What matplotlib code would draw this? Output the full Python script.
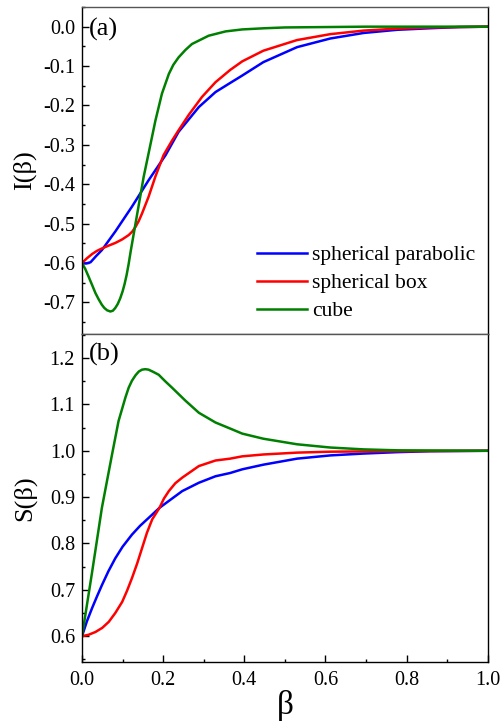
import numpy as np
import matplotlib
matplotlib.use('Agg')
import matplotlib.pyplot as plt
from matplotlib.ticker import MultipleLocator

plt.rcParams['font.family'] = ['Liberation Serif', 'DejaVu Serif']

# ---- panel (a): I(beta) ----
beta_a_par = [0.000, 0.010, 0.021, 0.035, 0.049, 0.082, 0.123, 0.164, 0.206, 0.238,
              0.288, 0.329, 0.365, 0.395, 0.447, 0.530, 0.612, 0.694, 0.776, 0.858,
              0.930, 1.000]
I_par = [-0.600, -0.601, -0.598, -0.582, -0.567, -0.520, -0.457, -0.390, -0.326, -0.267,
         -0.204, -0.166, -0.143, -0.124, -0.090, -0.052, -0.030, -0.016, -0.008, -0.004,
         -0.001, 0.000]

beta_a_box = [0.000, 0.012, 0.025, 0.037, 0.049, 0.065, 0.082, 0.099, 0.115, 0.124,
              0.132, 0.140, 0.148, 0.164, 0.181, 0.201, 0.222, 0.238, 0.263, 0.296,
              0.329, 0.365, 0.395, 0.447, 0.530, 0.612, 0.694, 0.776, 0.858, 1.000]
I_box = [-0.600, -0.588, -0.577, -0.569, -0.563, -0.556, -0.549, -0.540, -0.529, -0.520,
         -0.508, -0.493, -0.474, -0.432, -0.380, -0.326, -0.289, -0.263, -0.224, -0.178,
         -0.141, -0.110, -0.088, -0.061, -0.034, -0.019, -0.010, -0.005, -0.002, 0.000]

beta_a_cube = [0.000, 0.008, 0.016, 0.025, 0.033, 0.041, 0.049, 0.055, 0.062, 0.070,
               0.076, 0.082, 0.088, 0.094, 0.100, 0.105, 0.110, 0.115, 0.120, 0.132,
               0.142, 0.152, 0.164, 0.181, 0.197, 0.214, 0.225, 0.238, 0.255, 0.271,
               0.312, 0.354, 0.395, 0.450, 0.500, 0.600, 0.700, 0.800, 1.000]
I_cube = [-0.600, -0.615, -0.634, -0.656, -0.676, -0.692, -0.706, -0.714, -0.720, -0.723,
          -0.721, -0.714, -0.704, -0.690, -0.672, -0.653, -0.630, -0.602, -0.570, -0.499,
          -0.440, -0.381, -0.322, -0.238, -0.170, -0.120, -0.097, -0.078, -0.059, -0.044,
          -0.023, -0.012, -0.007, -0.004, -0.002, -0.001, 0.000, 0.000, 0.000]

# ---- panel (b): S(beta) ----
beta_b_par = [0.000, 0.012, 0.025, 0.037, 0.049, 0.065, 0.082, 0.100, 0.123, 0.143,
              0.164, 0.191, 0.247, 0.288, 0.329, 0.365, 0.395, 0.447, 0.530, 0.612,
              0.694, 0.776, 0.858, 1.000]
S_par = [0.600, 0.632, 0.661, 0.686, 0.710, 0.740, 0.768, 0.793, 0.819, 0.838,
         0.855, 0.877, 0.913, 0.931, 0.945, 0.952, 0.960, 0.970, 0.983, 0.990,
         0.994, 0.997, 0.999, 1.000]

beta_b_box = [0.000, 0.016, 0.033, 0.050, 0.066, 0.082, 0.099, 0.111, 0.123, 0.136,
              0.148, 0.160, 0.173, 0.191, 0.202, 0.214, 0.230, 0.247, 0.288, 0.329,
              0.365, 0.395, 0.447, 0.530, 0.612, 0.750, 1.000]
S_box = [0.600, 0.603, 0.609, 0.618, 0.631, 0.650, 0.674, 0.698, 0.725, 0.757,
         0.790, 0.823, 0.852, 0.877, 0.897, 0.913, 0.930, 0.942, 0.967, 0.979,
         0.983, 0.988, 0.992, 0.996, 0.998, 0.999, 1.000]

beta_b_cube = [0.000, 0.025, 0.049, 0.074, 0.090, 0.107, 0.115, 0.123, 0.132, 0.140,
               0.148, 0.156, 0.164, 0.176, 0.189, 0.205, 0.222, 0.255, 0.288, 0.329,
               0.365, 0.395, 0.447, 0.530, 0.612, 0.694, 0.776, 1.000]
S_cube = [0.600, 0.739, 0.877, 0.992, 1.064, 1.115, 1.136, 1.151, 1.163, 1.171,
          1.175, 1.176, 1.175, 1.170, 1.164, 1.150, 1.136, 1.108, 1.082, 1.061,
          1.048, 1.037, 1.026, 1.014, 1.007, 1.003, 1.001, 1.000]

labels = ['spherical parabolic', 'spherical box', 'cube']
colors = ['#0000ff', '#ff0000', '#008000']

fig = plt.figure(figsize=(5.01, 7.26), dpi=100)
axa = fig.add_axes([0.1637, 0.540, 0.8098, 0.4504])
axb = fig.add_axes([0.1637, 0.0886, 0.8098, 0.4514])

lw = 1.8
axa.plot(beta_a_par, I_par, color=colors[0], lw=lw, label=labels[0])
axa.plot(beta_a_box, I_box, color=colors[1], lw=lw, label=labels[1])
axa.plot(beta_a_cube, I_cube, color=colors[2], lw=lw, label=labels[2])

axb.plot(beta_b_par, S_par, color=colors[0], lw=lw)
axb.plot(beta_b_box, S_box, color=colors[1], lw=lw)
axb.plot(beta_b_cube, S_cube, color=colors[2], lw=lw)

fmt = plt.FuncFormatter(lambda v, p: '%.1f' % v)
for ax in (axa, axb):
    ax.set_xlim(0.0, 1.0)
    ax.xaxis.set_major_locator(MultipleLocator(0.2))
    ax.xaxis.set_minor_locator(MultipleLocator(0.1))
    ax.yaxis.set_major_locator(MultipleLocator(0.1))
    ax.yaxis.set_minor_locator(MultipleLocator(0.05))
    ax.yaxis.set_major_formatter(fmt)
    ax.tick_params(which='both', direction='in', top=False, right=False,
                   labelsize=14.5, width=1.0)
    ax.tick_params(which='major', length=5)
    ax.tick_params(which='minor', length=2.5)
    ax.tick_params(axis='y', pad=5)
    for s in ax.spines.values():
        s.set_linewidth(1.0)
    ax.spines['top'].set_color('#555555')

axa.spines['bottom'].set_color('#555555')
axa.tick_params(axis='x', which='both', bottom=False, labelbottom=False)
axb.tick_params(axis='x', pad=7)
axb.xaxis.set_major_formatter(fmt)

axa.set_ylim(-0.78, 0.05)
axb.set_ylim(0.545, 1.252)

axa.set_ylabel('I(β)', fontsize=19)
axb.set_ylabel('S(β)', fontsize=19)
axb.set_xlabel('β', fontsize=24, labelpad=0)
axa.yaxis.set_label_coords(-0.112, 0.5)
axb.yaxis.set_label_coords(-0.112, 0.5)

axa.text(0.018, 0.968, '(a)', transform=axa.transAxes, fontsize=19,
         ha='left', va='top')
axb.text(0.018, 0.972, '(b)', transform=axb.transAxes, fontsize=19,
         ha='left', va='top')

axa.legend(loc='upper left', bbox_to_anchor=(0.431, 0.2716), frameon=False,
           fontsize=15.5, handlelength=2.33, handletextpad=0.23,
           labelspacing=0.37, borderpad=0, borderaxespad=0)

fig.savefig('out.png', dpi=100)
